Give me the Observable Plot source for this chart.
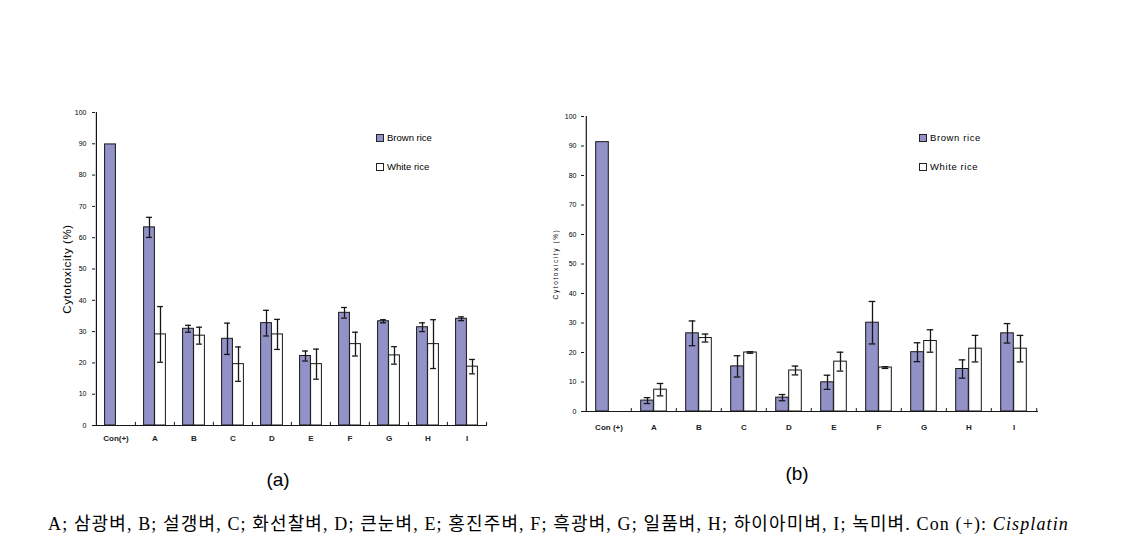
<!DOCTYPE html>
<html>
<head>
<meta charset="utf-8">
<script src="https://cdn.jsdelivr.net/npm/d3@7"></script>
<script src="https://cdn.jsdelivr.net/npm/@observablehq/plot@0.6"></script>
<style>
  body { margin:0; background:#fff; width:1137px; height:551px; position:relative; overflow:hidden;
         font-family: Arial, "Liberation Sans", sans-serif; color:#000; }
  .chart { position:absolute; }
  .legend { position:absolute; font-size:9.5px; line-height:10px; white-space:nowrap; }
  .legend span.sw { display:inline-block; width:6px; height:6px; border:1px solid #222; margin-right:3px; vertical-align:-1px; }
  .panel { position:absolute; font-size:19px; transform:translate(-50%,-50%); }
  .caption { position:absolute; left:48px; top:513px; white-space:nowrap; font-size:18px; line-height:22px;
             font-family: "Liberation Serif", "Noto Sans CJK KR", serif; }
  .caption i { font-family: "Liberation Serif", "DejaVu Serif", serif; font-style: italic; }
  #b g[aria-label="text"] text { letter-spacing:1.6px; }
  #a g[aria-label="text"] text { letter-spacing:0.6px; }
</style>
</head>
<body>
<div id="a" class="chart" style="left:20px;top:100px"></div>
<div id="b" class="chart" style="left:530px;top:100px"></div>

<div class="legend" style="left:376px;top:133px"><span class="sw" style="background:#9292c8"></span>Brown rice</div>
<div class="legend" style="left:376px;top:162px"><span class="sw" style="background:#fff"></span>White rice</div>
<div class="legend" style="left:919px;top:133px;letter-spacing:0.6px"><span class="sw" style="background:#9292c8"></span>Brown rice</div>
<div class="legend" style="left:919px;top:162px;letter-spacing:0.6px"><span class="sw" style="background:#fff"></span>White rice</div>

<div class="panel" style="left:278px;top:480px">(a)</div>
<div class="panel" style="left:797px;top:474px">(b)</div>

<div class="caption" id="cap">A; 삼광벼, B; 설갱벼, C; 화선찰벼, D; 큰눈벼, E; 홍진주벼, F; 흑광벼, G; 일품벼, H; 하이아미벼, I; 녹미벼. Con (+): <i>Cisplatin</i></div>

<script>
// ---- data ----
const categoriesA = ["Con(+)", "A", "B", "C", "D", "E", "F", "G", "H", "I"];
const categoriesB = ["Con (+)", "A", "B", "C", "D", "E", "F", "G", "H", "I"];
const yTicks = [0, 10, 20, 30, 40, 50, 60, 70, 80, 90, 100];
const seriesNames = ["Brown rice", "White rice"];
const yLabel = "Cytotoxicity (%)";

// (a)
const brownA    = [89.8, 63.3, 30.9, 27.7, 32.7, 22.2, 36.0, 33.3, 31.4, 34.1];
const brownAErr = [null, 3.2, 1.1, 5.0, 4.1, 1.6, 1.7, 0.5, 1.4, 0.6];
const whiteA    = [null, 29.1, 28.7, 19.6, 29.1, 19.6, 26.0, 22.4, 26.0, 18.8];
const whiteAErr = [null, 8.9, 2.7, 5.5, 4.8, 4.8, 3.8, 2.8, 7.8, 2.3];

// (b)
const brownB    = [91.3, 3.7, 26.5, 15.3, 4.7, 9.9, 30.1, 20.1, 14.4, 26.5];
const brownBErr = [null, 1.0, 4.2, 3.6, 1.05, 2.4, 7.2, 3.2, 3.1, 3.3];
const whiteB    = [null, 7.4, 24.9, 20.0, 13.9, 16.9, 14.9, 23.9, 21.3, 21.3];
const whiteBErr = [null, 2.1, 1.35, 0.25, 1.5, 3.2, 0.3, 3.8, 4.5, 4.5];

const BROWN = "#9292c8";
const INK = "#161616";

function chart(cfg) {
  const {labels, brown, brownErr, white, whiteErr, width, height, ml, mr, mt, mb,
         barW, capW, tickFont, xPad, yPad, yLabelFont, yLabelDx} = cfg;
  const bRows = labels.map((c, i) => ({c, s: seriesNames[0], v: brown[i], e: brownErr[i]})).filter(d => d.v != null);
  const wRows = labels.map((c, i) => ({c, s: seriesNames[1], v: white[i], e: whiteErr[i]})).filter(d => d.v != null);
  const bw = (width - ml - mr) / labels.length;
  const half = bw / 2;
  const bErr = bRows.filter(d => d.e != null);
  const wErr = wRows.filter(d => d.e != null);
  const capMarks = (rows, center) => [
    Plot.tickY(rows, {x: "c", y: d => d.v + d.e, stroke: INK, strokeWidth: 1.3,
      insetLeft: half + center - capW / 2, insetRight: half - center - capW / 2}),
    Plot.tickY(rows, {x: "c", y: d => d.v - d.e, stroke: INK, strokeWidth: 1.3,
      insetLeft: half + center - capW / 2, insetRight: half - center - capW / 2})
  ];
  return Plot.plot({
    width, height,
    marginLeft: ml, marginRight: mr, marginTop: mt, marginBottom: mb,
    style: {fontFamily: "Arial, 'Liberation Sans', sans-serif", background: "transparent", overflow: "visible", color: "#000"},
    x: {domain: labels, padding: 0, axis: null},
    y: {domain: [0, 100], axis: null},
    marks: [
      Plot.barY(bRows, {x: "c", y: "v", fill: BROWN, stroke: INK, strokeWidth: 1,
        insetLeft: half - barW, insetRight: half}),
      Plot.barY(wRows, {x: "c", y: "v", fill: "#fff", stroke: INK, strokeWidth: 1,
        insetLeft: half, insetRight: half - barW}),
      Plot.ruleX(bErr, {x: "c", y1: d => d.v - d.e, y2: d => d.v + d.e, dx: -barW / 2, stroke: INK, strokeWidth: 1.3}),
      Plot.ruleX(wErr, {x: "c", y1: d => d.v - d.e, y2: d => d.v + d.e, dx: barW / 2, stroke: INK, strokeWidth: 1.3}),
      ...capMarks(bErr, -barW / 2),
      ...capMarks(wErr, barW / 2),
      Plot.ruleY([0], {stroke: INK, strokeWidth: 1.2}),
      Plot.ruleX([labels[0]], {x: d => d, y1: 0, y2: 100, dx: -half, stroke: INK, strokeWidth: 1.2}),
      Plot.ruleX(labels.slice(1), {x: d => d, y1: 0, y2: 1, dx: -half, stroke: INK, strokeWidth: 1}),
      Plot.ruleX([labels[labels.length - 1]], {x: d => d, y1: 0, y2: 1, dx: half, stroke: INK, strokeWidth: 1}),
      Plot.axisY({ticks: yTicks, tickSize: 3, tickPadding: yPad, fontSize: tickFont, label: null, stroke: INK}),
      Plot.axisX({tickSize: 0, tickPadding: xPad, fontSize: tickFont + 1, fontWeight: "bold", fill: "#222", label: null}),
      Plot.text([yLabel], {frameAnchor: "left", textAnchor: "middle", rotate: -90, dx: yLabelDx, fontSize: yLabelFont, fill: "#000"})
    ]
  });
}

document.getElementById("a").append(chart({
  labels: categoriesA, brown: brownA, brownErr: brownAErr, white: whiteA, whiteErr: whiteAErr,
  width: 480, height: 350, ml: 75, mr: 13, mt: 12, mb: 25,
  barW: 11, capW: 6, tickFont: 7, xPad: 10, yPad: 6, yLabelFont: 11.5, yLabelDx: -28
}));

document.getElementById("b").append(chart({
  labels: categoriesB, brown: brownB, brownErr: brownBErr, white: whiteB, whiteErr: whiteBErr,
  width: 520, height: 335, ml: 54, mr: 12, mt: 16, mb: 24,
  barW: 13, capW: 7, tickFont: 7, xPad: 13, yPad: 5, yLabelFont: 6.5, yLabelDx: -29
}));

// fit caption to the reference's span (x 48 → 1069)
const cap = document.getElementById("cap");
const natural = cap.getBoundingClientRect().width;
const nChars = cap.textContent.length;
cap.style.letterSpacing = ((1021 - natural) / nChars) + "px";
</script>
</body>
</html>
